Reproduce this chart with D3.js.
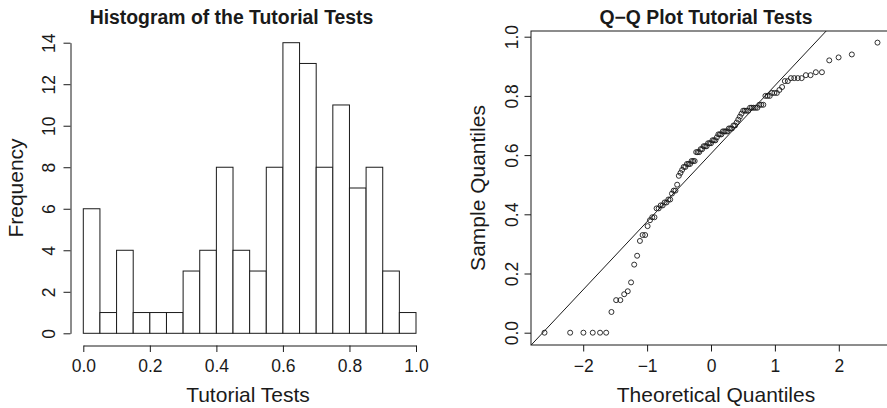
<!DOCTYPE html>
<html>
<head>
<meta charset="utf-8">
<script src="https://cdn.jsdelivr.net/npm/d3@7"></script>
<style>
  body { margin: 0; background: #fff; }
  svg { font-family: "Liberation Sans", Arial, Helvetica, sans-serif; }
</style>
</head>
<body>
<svg id="chart" width="887" height="408"></svg>
<script>
'use strict';

// histogram: break points and counts per bin
let histBreaks = [0, 0.05, 0.1, 0.15, 0.2, 0.25, 0.3, 0.35, 0.4, 0.45, 0.5,
                  0.55, 0.6, 0.65, 0.7, 0.75, 0.8, 0.85, 0.9, 0.95, 1.0];
let histCounts = [6, 1, 4, 1, 1, 1, 3, 4, 8, 4, 3, 8, 14, 13, 8, 11, 7, 8, 3, 1];
let histYTicks = [0, 2, 4, 6, 8, 10, 12, 14];
let histXTicks = [0, 0.2, 0.4, 0.6, 0.8, 1.0];

// sorted tutorial test scores (sample quantiles)
let qqSample = [
    0, 0, 0, 0, 0, 0,
    0.07,
    0.11, 0.11, 0.13, 0.14,
    0.17, 0.23, 0.26,
    0.31, 0.33, 0.33,
    0.36, 0.38, 0.39, 0.39,
    0.42, 0.42, 0.43, 0.43, 0.44, 0.44, 0.45, 0.45,
    0.47, 0.48, 0.48, 0.50,
    0.53, 0.54, 0.55,
    0.56, 0.56, 0.57, 0.57, 0.57, 0.58, 0.58, 0.58,
    0.61, 0.61, 0.61, 0.62, 0.62, 0.63, 0.63, 0.63, 0.64, 0.64, 0.64, 0.65, 0.65, 0.65,
    0.66, 0.67, 0.67, 0.67, 0.68, 0.68, 0.68, 0.68, 0.69, 0.69, 0.69, 0.70, 0.70,
    0.71, 0.72, 0.73, 0.74, 0.75, 0.75, 0.75, 0.75,
    0.76, 0.76, 0.76, 0.76, 0.76, 0.77, 0.77, 0.77, 0.80, 0.80, 0.80,
    0.81, 0.81, 0.81, 0.82, 0.83, 0.85, 0.85,
    0.86, 0.86, 0.86, 0.86, 0.87, 0.87, 0.88, 0.88,
    0.92, 0.93, 0.94,
    0.98
];
let qqXTicks = [-2, -1, 0, 1, 2];
let qqYTicks = [0, 0.2, 0.4, 0.6, 0.8, 1.0];

let ink = "#1a1a1a";
let tickFont = "17.5px";
let labFont = "21px";
let mainFont = "19.4px";

let svg = d3.select("#chart");

drawHistogram();
drawQQ();

function drawHistogram() {
    let x = d3.scaleLinear().domain([0, 1]).range([83.3, 416]);
    let y = d3.scaleLinear().domain([0, 14]).range([333.3, 42.7]);
    let g = svg.append("g");

    g.selectAll("rect.bar")
        .data(histCounts)
        .enter()
        .append("rect")
        .attr("class", "bar")
        .attr("x", (d, i) => x(histBreaks[i]))
        .attr("y", d => y(d))
        .attr("width", (d, i) => x(histBreaks[i + 1]) - x(histBreaks[i]))
        .attr("height", d => y(0) - y(d))
        .attr("fill", "#fff")
        .attr("stroke", ink)
        .attr("stroke-width", 1);

    let xAxis = g.append("g")
        .attr("transform", "translate(0,345.5)")
        .call(d3.axisBottom(x).tickValues(histXTicks).tickFormat(d3.format(".1f"))
            .tickSize(6.5).tickSizeOuter(0).tickPadding(5));
    styleAxis(xAxis);
    xAxis.selectAll("text").attr("dy", null).attr("y", 26);

    let yAxis = g.append("g")
        .attr("transform", "translate(70.5,0)")
        .call(d3.axisLeft(y).tickValues(histYTicks).tickFormat(d3.format("d"))
            .tickSize(7).tickSizeOuter(0));
    styleAxis(yAxis);
    rotateTicks(yAxis, 70.5 - 55);

    g.append("text")
        .attr("x", 231.5).attr("y", 24)
        .attr("text-anchor", "middle")
        .style("font-size", mainFont).style("font-weight", "bold")
        .attr("fill", ink)
        .text("Histogram of the Tutorial Tests");

    g.append("text")
        .attr("x", 248).attr("y", 402)
        .attr("text-anchor", "middle")
        .style("font-size", labFont)
        .attr("fill", ink)
        .text("Tutorial Tests");

    g.append("text")
        .attr("transform", "translate(23,188) rotate(-90)")
        .attr("text-anchor", "middle")
        .style("font-size", labFont)
        .attr("fill", ink)
        .text("Frequency");
}

function drawQQ() {
    let n = qqSample.length;
    let theory = qqSample.map((d, i) => qnorm((i + 1 - 0.5) / n));
    let pts = qqSample.map((d, i) => ({tq: theory[i], sq: d}));

    let x = d3.scaleLinear().domain([0, 1]).range([711, 774.9]);
    let y = d3.scaleLinear().domain([0, 1]).range([332.7, 36.7]);
    let left = 531, top = 31, bottom = 345, right = 891;

    let g = svg.append("g");

    g.append("clipPath").attr("id", "qqclip")
        .append("rect")
        .attr("x", left).attr("y", top)
        .attr("width", right - left).attr("height", bottom - top);

    // reference line through the quartiles, as qqline does
    let q1 = d3.quantile(qqSample, 0.25), q3 = d3.quantile(qqSample, 0.75);
    let z1 = qnorm(0.25), z3 = qnorm(0.75);
    let slope = (q3 - q1) / (z3 - z1);
    let icpt = q1 - slope * z1;
    let xs = [x.invert(left), x.invert(right)];
    g.append("line")
        .attr("clip-path", "url(#qqclip)")
        .attr("x1", x(xs[0])).attr("y1", y(icpt + slope * xs[0]))
        .attr("x2", x(xs[1])).attr("y2", y(icpt + slope * xs[1]))
        .attr("stroke", ink).attr("stroke-width", 1);

    g.selectAll("circle")
        .data(pts)
        .enter()
        .append("circle")
        .attr("cx", d => x(d.tq))
        .attr("cy", d => y(d.sq))
        .attr("r", 2.5)
        .attr("fill", "none")
        .attr("stroke", ink)
        .attr("stroke-width", 0.9);

    g.append("rect")
        .attr("x", left).attr("y", top)
        .attr("width", right - left).attr("height", bottom - top)
        .attr("fill", "none")
        .attr("stroke", ink).attr("stroke-width", 1);

    let xAxis = g.append("g")
        .attr("transform", "translate(0," + bottom + ")")
        .call(d3.axisBottom(x).tickValues(qqXTicks).tickFormat(d3.format("d"))
            .tickSize(6.5).tickSizeOuter(0));
    styleAxis(xAxis);
    xAxis.select(".domain").remove();
    xAxis.selectAll("text").attr("dy", null).attr("y", 27);

    let yAxis = g.append("g")
        .attr("transform", "translate(" + left + ",0)")
        .call(d3.axisLeft(y).tickValues(qqYTicks).tickFormat(d3.format(".1f"))
            .tickSize(6.5).tickSizeOuter(0));
    styleAxis(yAxis);
    yAxis.select(".domain").remove();
    rotateTicks(yAxis, left - 518);

    g.append("text")
        .attr("x", 706).attr("y", 24)
        .attr("text-anchor", "middle")
        .style("font-size", mainFont).style("font-weight", "bold")
        .attr("fill", ink)
        .text("Q\u2212Q Plot Tutorial Tests");

    g.append("text")
        .attr("x", 716).attr("y", 402)
        .attr("text-anchor", "middle")
        .style("font-size", labFont)
        .attr("fill", ink)
        .text("Theoretical Quantiles");

    g.append("text")
        .attr("transform", "translate(485,188) rotate(-90)")
        .attr("text-anchor", "middle")
        .style("font-size", labFont)
        .attr("fill", ink)
        .text("Sample Quantiles");
}

function styleAxis(ax) {
    ax.attr("font-family", null).attr("font-size", null);
    ax.selectAll("path, line").attr("stroke", ink);
    ax.selectAll("text").attr("fill", ink).style("font-size", tickFont);
}

// R draws y tick labels parallel to the axis
function rotateTicks(ax, offset) {
    ax.selectAll(".tick text")
        .attr("x", null).attr("dy", null)
        .attr("text-anchor", "middle")
        .attr("transform", "translate(" + (-offset) + ",0) rotate(-90)");
}

// inverse normal CDF (Acklam's rational approximation)
function qnorm(p) {
    let a = [-3.969683028665376e+01, 2.209460984245205e+02, -2.759285104469687e+02,
             1.383577518672690e+02, -3.066479806614716e+01, 2.506628277459239e+00];
    let b = [-5.447609879822406e+01, 1.615858368580409e+02, -1.556989798598866e+02,
             6.680131188771972e+01, -1.328068155288572e+01];
    let c = [-7.784894002430293e-03, -3.223964580411365e-01, -2.400758277161838e+00,
             -2.549732539343734e+00, 4.374664141464968e+00, 2.938163982698783e+00];
    let dd = [7.784695709041462e-03, 3.224671290700398e-01, 2.445134137142996e+00,
              3.754408661907416e+00];
    let plow = 0.02425, phigh = 1 - plow, q, r;
    if (p < plow) {
        q = Math.sqrt(-2 * Math.log(p));
        return (((((c[0]*q+c[1])*q+c[2])*q+c[3])*q+c[4])*q+c[5]) /
               ((((dd[0]*q+dd[1])*q+dd[2])*q+dd[3])*q+1);
    }
    if (p > phigh) {
        q = Math.sqrt(-2 * Math.log(1 - p));
        return -(((((c[0]*q+c[1])*q+c[2])*q+c[3])*q+c[4])*q+c[5]) /
                ((((dd[0]*q+dd[1])*q+dd[2])*q+dd[3])*q+1);
    }
    q = p - 0.5;
    r = q * q;
    return (((((a[0]*r+a[1])*r+a[2])*r+a[3])*r+a[4])*r+a[5])*q /
           (((((b[0]*r+b[1])*r+b[2])*r+b[3])*r+b[4])*r+1);
}
</script>
</body>
</html>
